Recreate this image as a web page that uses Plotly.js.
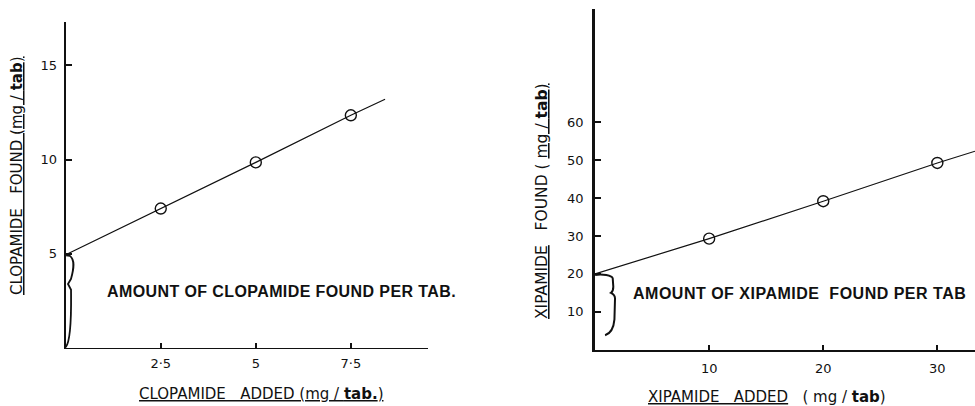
<!DOCTYPE html>
<html><head><meta charset="utf-8">
<script src="https://cdn.plot.ly/plotly-3.0.1.min.js"></script>
<style>html,body{margin:0;padding:0;background:#fff}#chart{width:975px;height:406px}</style>
</head><body><div id="chart"></div>
<script>
// Left panel: clopamide
const clopAdded = [2.5, 5, 7.5];
const clopFound = [7.4, 9.85, 12.35];
const clopLineX = [0, 2.5, 5, 7.5, 8.4];
const clopLineY = [4.95, 7.4, 9.85, 12.35, 13.2];
const clopTickVals = [2.5, 5, 7.5];
const clopTickText = ['2·5', '5', '7·5'];
const clopYTicks = [5, 10, 15];

// Right panel: xipamide
const xipAdded = [10, 20, 30];
const xipFound = [29.3, 39.2, 49.3];
const xipLineX = [0, 10, 20, 30, 33.3];
const xipLineY = [20, 29.3, 39.2, 49.3, 52.4];
const xipTickVals = [10, 20, 30];
const xipYTicks = [10, 20, 30, 40, 50, 60];

const thin = "'DejaVu Sans', sans-serif";
const bold = "'Liberation Sans', Arial, sans-serif";
const tickFont = {family: thin, size: 13, color: '#111'};

const traces = [
  {x: clopLineX, y: clopLineY, mode: 'lines', line: {color: '#111', width: 1.2}, xaxis: 'x', yaxis: 'y', hoverinfo: 'skip'},
  {x: clopAdded, y: clopFound, mode: 'markers', marker: {symbol: 'circle-open', size: 11, color: '#111', line: {width: 1.4}}, xaxis: 'x', yaxis: 'y'},
  {x: xipLineX, y: xipLineY, mode: 'lines', line: {color: '#111', width: 1.2}, xaxis: 'x2', yaxis: 'y2', hoverinfo: 'skip'},
  {x: xipAdded, y: xipFound, mode: 'markers', marker: {symbol: 'circle-open', size: 11, color: '#111', line: {width: 1.4}}, xaxis: 'x2', yaxis: 'y2'}
];

const axBase = {showgrid: false, zeroline: false, showline: true, linecolor: '#111', ticks: 'inside',
  tickcolor: '#111', tickfont: tickFont, fixedrange: true};

const U = s => '<span style="text-decoration:underline">' + s + '</span>';
const LS = (s, px) => '<span style="letter-spacing:' + px + 'px">' + s + '</span>';

const layout = {
  width: 975, height: 406, showlegend: false,
  paper_bgcolor: '#fff', plot_bgcolor: '#fff',
  margin: {l: 0, r: 0, t: 0, b: 0},
  xaxis: Object.assign({}, axBase, {domain: [0.0674, 0.439], range: [0, 9.53], anchor: 'y',
    tickvals: clopTickVals, ticktext: clopTickText, ticklen: 5, tickwidth: 2, linewidth: 1.5, ticklabelstandoff: 3}),
  yaxis: Object.assign({}, axBase, {domain: [0.1429, 0.9458], range: [0, 17.3], anchor: 'x',
    tickvals: clopYTicks, ticklen: 6, tickwidth: 2, linewidth: 2, ticklabelstandoff: 4}),
  xaxis2: Object.assign({}, axBase, {domain: [0.6103, 1], range: [0, 33.3], anchor: 'y2',
    tickvals: xipTickVals, ticklen: 5, tickwidth: 2, linewidth: 2, ticklabelstandoff: 6}),
  yaxis2: Object.assign({}, axBase, {domain: [0.139, 0.978], range: [0, 90], anchor: 'x2',
    tickvals: xipYTicks, ticklen: 6, tickwidth: 2, linewidth: 3, ticklabelstandoff: 6}),
  shapes: [
    {type: 'path', xref: 'x', yref: 'y', line: {color: '#111', width: 1.8},
     path: 'M0,0.05 C0.17,0.43 0.14,2.55 0.14,3.09 L0.06,3.4 L0.14,3.67 C0.22,4.26 0.245,4.68 0.11,4.89 L0.01,4.92'},
    {type: 'path', xref: 'x2', yref: 'y2', line: {color: '#111', width: 2},
     path: 'M0,19.7 C0.6,20.1 1.5,19.6 1.55,18.8 L1.6,16.6 Q1.6,15.4 1.4,15.0 Q1.75,14.5 1.75,13.5 L1.7,8 Q1.6,4.5 0.88,3.8'}
  ],
  annotations: [
    {xref: 'paper', yref: 'paper', x: 281/975, y: 1 - 291/406, showarrow: false, xanchor: 'center', yanchor: 'middle',
     text: '<b>' + LS('AMOUNT OF CLOPAMIDE FOUND PER TAB.', 0.4) + '</b>', font: {family: bold, size: 16, color: '#111'}},
    {xref: 'paper', yref: 'paper', x: 799/975, y: 1 - 293/406, showarrow: false, xanchor: 'center', yanchor: 'middle',
     text: '<b>' + LS('AMOUNT OF XIPAMIDE&nbsp; FOUND PER TAB', 0.5) + '</b>', font: {family: bold, size: 16, color: '#111'}},
    {xref: 'paper', yref: 'paper', x: 261/975, y: 1 - 394/406, showarrow: false, xanchor: 'center', yanchor: 'middle',
     text: U('CLOPAMIDE&nbsp;&nbsp; ADDED (mg / <b>tab.</b>)'), font: {family: thin, size: 15, color: '#111'}},
    {xref: 'paper', yref: 'paper', x: 17/975, y: 1 - 176/406, showarrow: false, textangle: -90, xanchor: 'center', yanchor: 'middle',
     text: U('CLOPAMIDE&nbsp;&nbsp; FOUND (mg / <b>tab</b>)'), font: {family: thin, size: 15, color: '#111'}},
    {xref: 'paper', yref: 'paper', x: 767/975, y: 1 - 397/406, showarrow: false, xanchor: 'center', yanchor: 'middle',
     text: U('XIPAMIDE&nbsp;&nbsp; ADDED') + '&nbsp;&nbsp; ( mg / <b>tab</b>)', font: {family: thin, size: 15, color: '#111'}},
    {xref: 'paper', yref: 'paper', x: 542/975, y: 1 - 201/406, showarrow: false, textangle: -90, xanchor: 'center', yanchor: 'middle',
     text: U('XIPAMIDE') + '&nbsp;&nbsp; FOUND ( ' + U('mg / <b>tab</b>)'), font: {family: thin, size: 15.5, color: '#111'}}
  ]
};

Plotly.newPlot('chart', traces, layout, {staticPlot: true, displayModeBar: false});
</script>
</body></html>
